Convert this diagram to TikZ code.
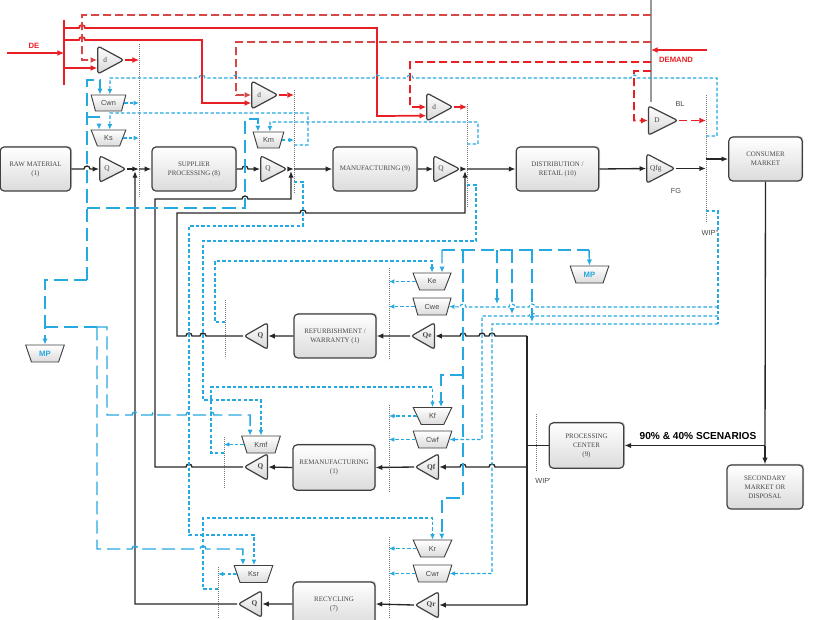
\documentclass[tikz,border=0pt]{standalone}
\usepackage{fontspec}
\setmainfont{Liberation Serif}
\newfontfamily\labelfont{Liberation Sans}
\usetikzlibrary{arrows.meta,shapes.geometric,shadows,positioning}

\definecolor{redline}{RGB}{232,32,38}
\definecolor{redsoft}{RGB}{214,72,72}
\definecolor{blueline}{RGB}{38,168,224}
\definecolor{boxline}{RGB}{64,64,64}
\definecolor{boxtext}{RGB}{72,72,72}
\definecolor{wipgray}{RGB}{120,120,120}

\tikzset{
  block/.style={draw=boxline, line width=0.9pt, rounded corners=3pt,
    top color=white, bottom color=black!14,
    drop shadow={shadow xshift=0.9pt, shadow yshift=0.9pt, opacity=0.35},
    align=center, text=boxtext, font=\fontsize{5.2}{6.8}\selectfont,
    minimum height=33pt, inner sep=1pt},
  amp/.style={isosceles triangle, isosceles triangle apex angle=60,
    isosceles triangle stretches, minimum width=20pt, minimum height=19.5pt,
    draw=boxline, line width=0.9pt, rounded corners=2pt,
    top color=white, bottom color=black!16, inner sep=0pt, text=boxtext,
    font=\fontsize{5.5}{6}\selectfont},
  ampl/.style={amp, shape border rotate=180, minimum height=17.5pt,
    font=\bfseries\fontsize{5.5}{6}\selectfont},
  gain/.style={trapezium, trapezium left angle=65, trapezium right angle=65,
    shape border rotate=180, trapezium stretches=true,
    minimum width=26pt, minimum height=12pt, draw=boxline, line width=0.7pt,
    top color=white, bottom color=black!14, inner sep=0pt, text=boxtext,
    font=\labelfont\fontsize{5.5}{6}\selectfont},
  wip/.style={draw=wipgray, line width=0.65pt, dash pattern=on 0.6pt off 0.9pt},
  pipe/.style={draw=black!85, line width=1pt},
  flow/.style={pipe, -{Latex[length=5pt,width=4pt]}},
  demand/.style={draw=redline, line width=1.3pt, -{Latex[length=5pt,width=4.5pt]}},
  redd/.style={demand, dash pattern=on 6pt off 3pt},
  info/.style={draw=blueline, line width=0.85pt, dash pattern=on 2.6pt off 1.6pt,
    -{Latex[length=4pt,width=3.5pt]}},
  infoc/.style={draw=blueline, line width=1.1pt, dash pattern=on 10pt off 4.5pt,
    -{Latex[length=4.5pt,width=4pt]}},
  tag/.style={font=\labelfont\fontsize{5.5}{6}\selectfont, text=boxtext, inner sep=0.75pt},
  redtag/.style={font=\labelfont\bfseries\fontsize{5.8}{6}\selectfont, text=redline, inner sep=0.75pt},
}

% hop over a crossing line, going right / going left
\newcommand{\hopR}[2]{-- (#1-3,#2) arc[start angle=180,end angle=360,radius=3]}
\newcommand{\hopL}[2]{-- (#1+3,#2) arc[start angle=0,end angle=-180,radius=3]}

\begin{document}
\begin{tikzpicture}[x=0.75pt,y=0.75pt,yscale=-1,xscale=1]
\useasboundingbox (0,0) rectangle (816,619);

% WIP level lines
\coordinate (w1t) at (139,44);  \coordinate (w1b) at (139,198);
\coordinate (w2t) at (294,90);  \coordinate (w2b) at (294,193);
\coordinate (w3t) at (467,104); \coordinate (w3b) at (467,207);
\coordinate (w4t) at (706,95);  \coordinate (w4b) at (706,223);
\coordinate (w5t) at (389,268); \coordinate (w5b) at (389,360);
\coordinate (w6t) at (225,300); \coordinate (w6b) at (225,358);
\coordinate (w7t) at (389,405); \coordinate (w7b) at (389,492);
\coordinate (w8t) at (224,437); \coordinate (w8b) at (224,488);
\coordinate (w9t) at (389,537); \coordinate (w9b) at (389,619);
\coordinate (w10t) at (218,567); \coordinate (w10b) at (218,619);
\coordinate (w11t) at (536,414); \coordinate (w11b) at (536,472);
\foreach \w in {w1,w2,w3,w4,w5,w6,w7,w8,w9,w10,w11}
  \draw[wip] (\w t) -- (\w b);

% Blocks
\node[block, minimum width=53pt] (raw) at (35.5,169) {RAW MATERIAL\\(1)};
\node[block, minimum width=63pt] (sup) at (194,169) {SUPPLIER\\PROCESSING (8)};
\node[block, minimum width=63pt] (man) at (375,169) {MANUFACTURING (9)};
\node[block, minimum width=62pt] (dis) at (557.5,169) {DISTRIBUTION /\\RETAIL (10)};
\node[block, minimum width=55pt] (con) at (765.5,159) {CONSUMER\\MARKET};
\node[block, minimum width=61.5pt] (ref) at (335,336) {REFURBISHMENT /\\WARRANTY (1)};
\node[block, minimum width=61.5pt, minimum height=34pt] (rem) at (334,467.5) {REMANUFACTURING\\(1)};
\node[block, minimum width=61.5pt] (rec) at (334,604) {RECYCLING\\(7)};
\node[block, minimum width=56pt, minimum height=34pt] (pro) at (586.5,445.5) {PROCESSING\\CENTER\\(9)};
\node[block, minimum width=57pt] (sec) at (765,487) {SECONDARY\\MARKET OR\\DISPOSAL};

% Delays and rates
\node[amp, anchor=apex, minimum width=21pt] (d1) at (125,60) {d};
\node[amp, anchor=apex, minimum width=21pt] (d2) at (279,95) {d};
\node[amp, anchor=apex, minimum width=21pt] (d3) at (454,107) {d};
\node[amp, anchor=apex, minimum width=22pt, minimum height=22pt] (dd) at (679,120.5) {D};
\node[amp, anchor=apex] (q1) at (127,169) {Q};
\node[amp, anchor=apex] (q2) at (288,169) {Q};
\node[amp, anchor=apex] (q3) at (461,169) {Q};
\node[amp, anchor=apex, minimum width=22pt, minimum height=21pt] (qfg) at (676,168.5) {Qfg};
\node[ampl, anchor=apex] (qe) at (410,336) {Qe};
\node[ampl, anchor=apex] (qro) at (243,336) {Q};
\node[ampl, anchor=apex] (qf) at (414,467) {Qf};
\node[ampl, anchor=apex] (qmo) at (243,467) {Q};
\node[ampl, anchor=apex] (qr) at (414,605) {Qr};
\node[ampl, anchor=apex] (qso) at (237,604) {Q};

% Gains
\node[gain] (cwn) at (108.5,103) {Cwn};
\node[gain] (ks) at (108.5,138) {Ks};
\node[gain, minimum width=23pt] (km) at (268.5,140) {Km};
\node[gain, minimum width=28.5pt, minimum height=12.75pt] (ke) at (432,281.5) {Ke};
\node[gain, minimum width=28.5pt, minimum height=12.75pt] (cwe) at (432,306.5) {Cwe};
\node[gain, minimum width=29pt, minimum height=12.75pt] (kf) at (432.5,416) {Kf};
\node[gain, minimum width=29pt, minimum height=12.75pt] (cwf) at (432.5,439.5) {Cwf};
\node[gain, minimum width=29pt, minimum height=12.75pt] (kmf) at (261,444.5) {Kmf};
\node[gain, minimum width=29pt, minimum height=12.75pt] (kr) at (432.5,548.5) {Kr};
\node[gain, minimum width=29pt, minimum height=12.75pt] (cwr) at (432.5,573.5) {Cwr};
\node[gain, minimum width=29pt, minimum height=12.75pt] (ksr) at (253.5,574) {Ksr};
\node[gain, minimum width=29pt, minimum height=12.75pt, text=blueline,
  font=\labelfont\bfseries\fontsize{5.8}{6}\selectfont] (mpr) at (589.5,274.5) {MP};
\node[gain, minimum width=29pt, minimum height=12.75pt, text=blueline,
  font=\labelfont\bfseries\fontsize{5.8}{6}\selectfont] (mpl) at (45,353.5) {MP};

% Text Node
\node[redtag] (lde) at (34,46) {DE};
\node[redtag] (ldem) at (676,60) {DEMAND};
\node[tag] (lbl) at (680,104) {BL};
\node[tag] (lfg) at (676,191) {FG};
\node[tag] (lwipa) at (710,233) {WIP''};
\node[tag] (lwipb) at (543,481) {WIP'};
\node[font=\labelfont\bfseries\fontsize{7.6}{8}\selectfont, inner sep=0.75pt] (lscen) at (698,436) {90\% \& 40\% SCENARIOS};

% Material flow
\draw[flow] (raw.east) \hopR{87}{169} -- (q1.west);
\draw[flow] (q1.east) -- (q1.east -| w1t);
\draw[flow] (q1.east -| w1t) -- (sup.west);
\draw[flow] (sup.east) \hopR{245}{169} -- (q2.west);
\draw[flow] (q2.east) -- (q2.east -| w2t);
\draw[flow] (q2.east -| w2t) -- (man.west);
\draw[flow] (man.east) -- (q3.west);
\draw[flow] (q3.east) -- (q3.east -| w3t);
\draw[flow] (q3.east -| w3t) -- (dis.west);
\draw[flow] (dis.east) -- (qfg.west);
\draw[flow] (qfg.east) -- (qfg.east -| w4t);
\draw[flow] (con.west -| w4t) -- (con.west);

% Return flow
\coordinate (split) at (765,445.5);
\coordinate (tt) at (527,336);
\coordinate (tb) at (527,605);
\draw[pipe] (con.south) -- (split);
\draw[flow] (split) -- (pro.east);
\draw[flow] (split) -- (sec.north);
\draw[pipe] (pro.west) -- (pro.west -| tt);
\draw[pipe] (tt) -- (tb);
\draw[flow] (tt) \hopL{492}{336}\hopL{482}{336}\hopL{463}{336} -- (qe.east);
\draw[flow] (tt |- qf.east) \hopL{492}{467}\hopL{463}{467} -- (qf.east);
\draw[flow] (tb) -- (qr.east);
\draw[flow] (qe.west) -- (ref.east);
\draw[flow] (ref.west) -- (qro.east);
\draw[flow] (qro.west) \hopL{203}{336}\hopL{189}{336} -- (177,336) -- (177,213) \hopR{303}{213} -- (465,213) -- (465,171);
\draw[flow] (qf.west) -- (rem.east);
\draw[flow] (rem.west) -- (qmo.east);
\draw[flow] (qmo.west) \hopL{189}{467} -- (155,467) -- (155,199) \hopR{245}{199} -- (291,199) -- (291,171);
\draw[flow] (qr.west) -- (rec.east);
\draw[flow] (rec.west) -- (qso.east);
\draw[flow] (qso.west) -- (135,604) -- (135,171);

% Demand signals
\draw[draw=black!40, line width=1.3pt] (651,0) -- (651,102);
\draw[redline, line width=1.6pt] (64,20) -- (64,85);
\draw[demand] (7,53) -- (64,53);
\draw[demand] (707,50) -- (651,50);
\draw[demand] (64,28) \hopR{82}{28} -- (377,28) -- (377,116) -- ([yshift=6.5pt]d3.west);
\draw[demand] (64,40) \hopR{82}{40} -- (202,40) -- (202,103) -- ([yshift=6pt]d2.west);
\draw[demand] (64,68) -- ([yshift=6pt]d1.west);
\draw[redd, draw=redsoft] (651,15) -- (82,15) -- (82,60) -- (d1.west);
\draw[redd, draw=redsoft] (651,42) -- (236,42) -- (236,95) -- (d2.west);
\draw[redd] (651,62) -- (410,62) -- (410,107) -- (d3.west);
\draw[redd] (651,71) -- (634,71) -- (634,120.5) -- (dd.west);
\draw[redd] (d1.east) -- (d1.east -| w1t);
\draw[redd] (d2.east) -- (d2.east -| w2t);
\draw[redd] (d3.east) -- (d3.east -| w3t);
\draw[redd] (dd.east) -- (dd.east -| w4t);

% Information feedback (short dashes)
\draw[info] (706,136) -- (717,136) -- (717,78) \hopL{634}{78}\hopL{410}{78}\hopL{377}{78}\hopL{236}{78}\hopL{202}{78} -- (110,78) -- ([xshift=1pt]cwn.north);
\draw[info] (294,145) -- (308,145) -- (308,113) -- (110,113) -- ([xshift=1pt]ks.north);
\draw[info] (467,144) -- (478,144) -- (478,122) -- (270,122) -- ([xshift=1pt]km.north);
\draw[info] (cwn.east) -- (cwn.east -| w1t);
\draw[info] (ks.east) -- (ks.east -| w1t);
\draw[info] (km.east) -- (km.east -| w2t);
\draw[info] (294,182) -- (303,182) -- (303,226) -- (189,226) -- (189,535) -| ([xshift=0.4pt]ksr.north);
\draw[info] (467,185) -- (476,185) -- (476,241) -- (203,241) -- (203,400) -| (kmf.north);
\draw[info] (225,322) -- (215,322) -- (215,261) -| (ke.north);
\draw[info] (224,453) -- (211,453) -- (211,387) -| (kf.north);
\draw[info] (218,589) -- (203,589) -- (203,518) -| (kr.north);
\draw[info] (ke.west) -- (ke.west -| w5t);
\draw[info] (cwe.west) -- (cwe.west -| w5t);
\draw[info] (kf.west) -- (kf.west -| w7t);
\draw[info] (cwf.west) -- (cwf.west -| w7t);
\draw[info] (kr.west) -- (kr.west -| w9t);
\draw[info] (cwr.west) -- (cwr.west -| w9t);
\draw[info] (kmf.west) -- (kmf.west -| w8t);
\draw[info] (ksr.west) -- (ksr.west -| w10t);
\draw[info, -] (706,211) -- (718,211) -- (718,324);
\draw[info] (718,307) \hopL{532}{307}\hopL{512}{307}\hopL{463}{307} -- (cwe.east);
\draw[info] (718,316) \hopL{532}{316} -- (482,316) -- (482,439.5) -- (cwf.east);
\draw[info] (718,324) -- (492,324) -- (492,573.5) -- (cwr.east);

% Information feedback (long dashes)
\draw[infoc] (87,280) -- (87,80) -| ([xshift=-6.4pt]cwn.north);
\draw[infoc] (87,117) -| ([xshift=-7.1pt]ks.north);
\draw[infoc] (87,208) -- (245,208) -- (245,119) -| ([xshift=-7.9pt]km.north);
\draw[infoc] (87,280) -| (mpl.north);
\draw[infoc, -] (45,327) -- (97,327);
\draw[infoc] (97,327) -- (97,549) \hopR{135}{549}\hopR{203}{549} -| ([xshift=-7.9pt]ksr.north);
\draw[infoc] (97,327) -- (107,327) -- (107,415) \hopR{135}{415}\hopR{155}{415}\hopR{189}{415}\hopR{211}{415} -| ([xshift=-8.2pt]kmf.north);
\draw[infoc, -] (442,250) -- (589,250);
\draw[infoc] (442,250) -- ([xshift=7.5pt]ke.north);
\draw[infoc] (589,250) -- (mpr.north);
\draw[infoc] (463,250) -- (463,498) -| ([xshift=7pt]kr.north);
\draw[infoc] (463,375) -| ([xshift=6.4pt]kf.north);
\draw[infoc] (497,250) -- (497,304);
\draw[infoc] (512,250) -- (512,314);
\draw[infoc] (532,250) -- (532,322);

\end{tikzpicture}
\end{document}
